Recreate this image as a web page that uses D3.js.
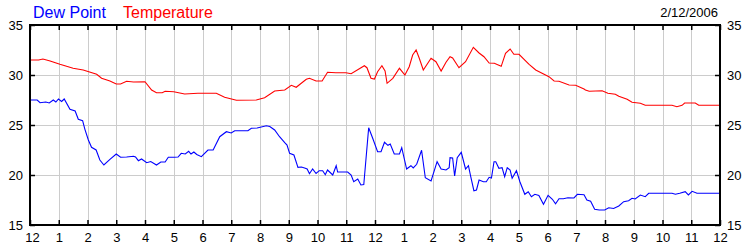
<!DOCTYPE html>
<html>
<head>
<meta charset="utf-8">
<script src="https://cdn.jsdelivr.net/npm/d3@7"></script>
<style>
  body { margin: 0; background: #fff; }
  svg { display: block; font-family: "Liberation Sans", Arial, sans-serif; }
  .grid line { stroke: #cccccc; stroke-width: 1; shape-rendering: crispEdges; }
  .axis text { font-size: 13px; fill: #000; }
  .axis line { stroke: #000; stroke-width: 1.5; }
</style>
</head>
<body>
<div id="chart"></div>
<script>
const d3 = window.d3;

// hour of day (0 = midnight) and reading in degrees
const hourTickLabels = ["12", "1", "2", "3", "4", "5", "6", "7", "8", "9", "10", "11",
  "12", "1", "2", "3", "4", "5", "6", "7", "8", "9", "10", "11", "12"];
const valueTicks = [15, 20, 25, 30, 35];

const dewPointHours = [0, 0.25, 0.35, 0.55, 0.67, 0.81, 0.9, 0.99, 1.1, 1.19, 1.39, 1.57, 1.68, 1.83, 1.91,
  2.03, 2.14, 2.3, 2.43, 2.57, 2.78, 3.0, 3.15, 3.36, 3.6, 3.67, 3.77, 3.88, 4.06, 4.2, 4.4, 4.55, 4.7, 4.81,
  5.0, 5.15, 5.26, 5.4, 5.52, 5.6, 5.7, 5.8, 5.96, 6.19, 6.37, 6.6, 6.83, 7.0, 7.12, 7.58, 7.7, 7.9, 8.22,
  8.34, 8.51, 8.68, 8.86, 8.94, 9.03, 9.18, 9.32, 9.44, 9.55, 9.64, 9.72, 9.83, 9.95, 10.06, 10.18, 10.27,
  10.35, 10.53, 10.65, 10.7, 11.05, 11.17, 11.26, 11.4, 11.51, 11.61, 11.78, 11.92, 12.09, 12.21, 12.33,
  12.45, 12.53, 12.67, 12.85, 12.93, 13.1, 13.25, 13.33, 13.45, 13.62, 13.75, 13.95, 14.16, 14.3, 14.47,
  14.58, 14.61, 14.7, 14.77, 14.86, 15.0, 15.15, 15.25, 15.33, 15.44, 15.53, 15.62, 15.77, 15.87, 15.97,
  16.05, 16.14, 16.2, 16.31, 16.42, 16.51, 16.6, 16.7, 16.77, 16.92, 17.04, 17.21, 17.33, 17.44, 17.56,
  17.7, 17.86, 18.02, 18.17, 18.28, 18.4, 18.55, 18.71, 18.92, 19.04, 19.27, 19.37, 19.5, 19.64, 19.8,
  19.99, 20.13, 20.3, 20.48, 20.65, 20.82, 20.94, 21.05, 21.23, 21.4, 21.52, 22.33, 22.45, 22.6, 22.79,
  22.9, 23.03, 23.2, 24];
const dewPointValues = [27.5, 27.5, 27.23, 27.3, 27.2, 27.5, 27.3, 27.6, 27.35, 27.6, 26.57, 26.4, 25.57,
  25.43, 24.57, 23.5, 22.77, 22.5, 21.5, 21.0, 21.57, 22.1, 21.77, 21.8, 21.87, 21.8, 21.43, 21.6, 21.23,
  21.35, 21.0, 21.3, 21.3, 21.77, 21.77, 21.8, 22.17, 22.1, 22.37, 22.1, 22.3, 22.05, 21.83, 22.5, 22.5,
  23.83, 24.33, 24.2, 24.43, 24.43, 24.67, 24.7, 24.93, 24.85, 24.5, 23.83, 23.23, 23.0, 22.17, 22.0,
  20.77, 20.8, 20.7, 20.6, 20.13, 20.6, 20.15, 20.43, 20.43, 20.03, 20.5, 20.0, 20.93, 20.3, 20.3, 20.0,
  19.33, 19.6, 19.0, 19.05, 24.73, 23.67, 22.33, 22.33, 23.27, 22.97, 23.1, 22.1, 22.1, 22.73, 20.6,
  20.93, 20.7, 21.07, 22.47, 19.73, 19.4, 21.33, 20.6, 20.5, 20.73, 21.73, 21.7, 19.9, 21.73, 22.27,
  20.6, 20.93, 19.83, 18.43, 18.5, 19.5, 19.33, 19.33, 19.77, 19.7, 21.33, 21.33, 20.67, 20.73, 19.83,
  20.73, 20.5, 19.67, 20.43, 19.33, 18.07, 18.33, 17.83, 18.07, 17.95, 17.07, 17.97, 17.57, 17.13, 17.63,
  17.63, 17.73, 17.7, 18.07, 18.03, 17.5, 17.37, 16.57, 16.5, 16.5, 16.73, 16.65, 16.9, 17.33, 17.43,
  17.67, 17.6, 18.0, 17.83, 18.17, 18.17, 18.07, 18.17, 18.33, 18.0, 18.37, 18.17, 18.17];

const temperatureHours = [0, 0.3, 0.45, 0.7, 1.04, 1.5, 1.85, 2.32, 2.49, 2.78, 3.0, 3.15, 3.36, 3.6, 4.0,
  4.23, 4.4, 4.6, 4.7, 5.0, 5.38, 5.84, 6.48, 6.77, 7.18, 7.87, 8.16, 8.51, 8.86, 9.09, 9.26, 9.61, 9.72,
  9.95, 10.16, 10.35, 10.64, 10.99, 11.17, 11.63, 11.72, 11.86, 11.98, 12.09, 12.24, 12.35, 12.42, 12.62,
  12.85, 13.04, 13.19, 13.31, 13.43, 13.54, 13.68, 13.95, 14.12, 14.3, 14.47, 14.61, 14.7, 14.92, 15.15,
  15.42, 15.62, 15.79, 15.97, 16.15, 16.39, 16.54, 16.7, 16.83, 17.01, 17.36, 17.59, 17.88, 18.05, 18.23,
  18.4, 18.75, 18.98, 19.27, 19.32, 19.45, 19.9, 20.1, 20.36, 20.48, 20.77, 20.94, 21.23, 21.4, 22.33,
  22.5, 22.68, 22.77, 23.14, 23.26, 24];
const temperatureValues = [31.5, 31.5, 31.6, 31.4, 31.07, 30.67, 30.5, 30.07, 29.67, 29.4, 29.1, 29.1,
  29.37, 29.3, 29.33, 28.5, 28.23, 28.23, 28.37, 28.33, 28.1, 28.17, 28.17, 27.77, 27.47, 27.5, 27.73,
  28.4, 28.5, 28.97, 28.77, 29.57, 29.67, 29.4, 29.4, 30.27, 30.23, 30.23, 30.13, 30.93, 30.73, 29.67,
  29.6, 30.33, 30.93, 30.4, 29.17, 29.67, 30.67, 30.0, 30.83, 32.0, 32.5, 31.67, 30.5, 31.67, 31.33,
  30.4, 31.27, 31.83, 31.7, 30.73, 31.33, 32.77, 32.2, 31.83, 31.2, 31.17, 30.87, 32.17, 32.6, 32.07,
  32.07, 31.07, 30.5, 30.07, 29.83, 29.4, 29.37, 29.0, 28.97, 28.6, 28.5, 28.37, 28.43, 28.17, 28.07,
  27.87, 27.57, 27.27, 27.17, 26.97, 26.97, 26.83, 26.97, 27.2, 27.2, 26.97, 26.97];

const WIDTH = 750;
const HEIGHT = 250;
const MARGIN = { top: 25, right: 30, bottom: 25, left: 30 };

const svg = d3.select("#chart").append("svg").attr("width", WIDTH).attr("height", HEIGHT);

const x = d3.scaleLinear().domain([0, 24]).range([MARGIN.left, WIDTH - MARGIN.right]);
const y = d3.scaleLinear().domain([15, 35]).range([HEIGHT - MARGIN.bottom, MARGIN.top]);
const hourTicks = d3.range(0, 25);

// grid
const grid = svg.append("g").attr("class", "grid");
grid.selectAll(".v").data(hourTicks.slice(1, -1)).join("line").attr("class", "v")
  .attr("x1", (d) => Math.round(x(d)) + 0.5).attr("x2", (d) => Math.round(x(d)) + 0.5)
  .attr("y1", y(35)).attr("y2", y(15));
grid.selectAll(".h").data(valueTicks.slice(1, -1)).join("line").attr("class", "h")
  .attr("x1", x(0)).attr("x2", x(24))
  .attr("y1", (d) => y(d) + 0.5).attr("y2", (d) => y(d) + 0.5);

// series
const line = d3.line().x((d) => x(d[0])).y((d) => y(d[1]));
svg.append("path")
  .datum(dewPointHours.map((h, i) => [h, dewPointValues[i]]))
  .attr("fill", "none").attr("stroke", "#0000ff").attr("stroke-width", 1.1)
  .attr("d", line);
svg.append("path")
  .datum(temperatureHours.map((h, i) => [h, temperatureValues[i]]))
  .attr("fill", "none").attr("stroke", "#ff0000").attr("stroke-width", 1.1)
  .attr("d", line);

// axes, ticks pointing into the plot
const plotBottom = HEIGHT - MARGIN.bottom;
const bottomAxis = svg.append("g").attr("class", "axis")
  .attr("transform", `translate(0,${plotBottom})`)
  .call(d3.axisBottom(x).tickValues(hourTicks).tickSizeInner(-5).tickSizeOuter(0).tickPadding(8)
    .tickFormat((d, i) => hourTickLabels[i]));
// first label sits a little right of the corner, as in the original
bottomAxis.selectAll(".tick text").filter((d) => d === 0).attr("x", 2);
svg.append("g").attr("class", "axis")
  .attr("transform", `translate(0,${MARGIN.top})`)
  .call(d3.axisTop(x).tickValues(hourTicks).tickSizeInner(-5).tickSizeOuter(0).tickFormat(""));
svg.append("g").attr("class", "axis")
  .attr("transform", `translate(${MARGIN.left},0)`)
  .call(d3.axisLeft(y).tickValues(valueTicks).tickSizeInner(-5).tickSizeOuter(0).tickPadding(7));
svg.append("g").attr("class", "axis")
  .attr("transform", `translate(${WIDTH - MARGIN.right},0)`)
  .call(d3.axisRight(y).tickValues(valueTicks).tickSizeInner(-5).tickSizeOuter(0).tickPadding(7));
svg.selectAll(".axis .domain").remove();

// frame
svg.append("rect")
  .attr("x", MARGIN.left).attr("y", MARGIN.top)
  .attr("width", WIDTH - MARGIN.left - MARGIN.right)
  .attr("height", HEIGHT - MARGIN.top - MARGIN.bottom)
  .attr("fill", "none").attr("stroke", "#000").attr("stroke-width", 2);

// legend + date
svg.append("text").attr("x", 33).attr("y", 18).attr("font-size", 16).attr("fill", "#0000ff").text("Dew Point");
svg.append("text").attr("x", 123).attr("y", 18).attr("font-size", 16).attr("fill", "#ff0000").text("Temperature");
svg.append("text").attr("x", 718).attr("y", 17).attr("font-size", 13).attr("text-anchor", "end")
  .attr("fill", "#000").text("2/12/2006");
</script>
</body>
</html>
